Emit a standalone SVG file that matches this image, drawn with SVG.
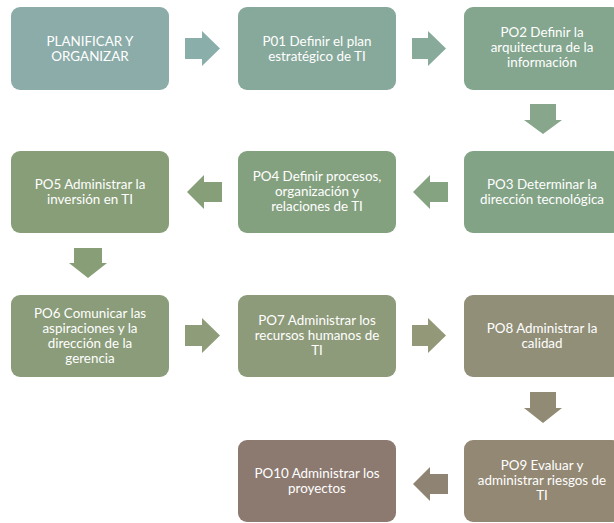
<svg xmlns="http://www.w3.org/2000/svg" width="614" height="523" viewBox="0 0 614 523">
<style>
  .box { stroke: none; }
  .t { font-family: Lato, "Open Sans", "Liberation Sans", sans-serif; font-size: 13.4px; fill: #ffffff; text-anchor: middle; }
</style>
<rect width="614" height="523" fill="#ffffff"/>
<g id="connectors">
  <path id="a1" d="M185,38 H202 V31 L220,48.5 L202,66 V59 H185 Z" fill="#8AAFAA"/>
  <path id="a2" d="M412,38 H428 V31 L446,48.5 L428,66 V59 H412 Z" fill="#88AA9B"/>
  <path id="a3" d="M530,104 H556 V120 H562 L543,134 L524,120 H530 Z" fill="#87A68C"/>
  <path id="a4" d="M448,182 H430 V175 L413,192 L430,209 V202 H448 Z" fill="#85A380"/>
  <path id="a5" d="M222,182 H204 V175 L187,192 L204,209 V202 H222 Z" fill="#879F79"/>
  <path id="a6" d="M74,248 H102 V263 H107 L88,278 L69,263 H74 Z" fill="#889E77"/>
  <path id="a7" d="M185,325 H202 V318 L220,335.5 L202,353 V346 H185 Z" fill="#8E9C79"/>
  <path id="a8" d="M412,325 H428 V318 L446,335.5 L428,353 V346 H412 Z" fill="#929878"/>
  <path id="a9" d="M530,392 H556 V408 H562 L543,423 L524,408 H530 Z" fill="#918B75"/>
  <path id="a10" d="M448,474 H430 V467 L413,484 L430,501 V494 H448 Z" fill="#8F8373"/>
</g>
<g id="n0">
  <rect class="box" x="11" y="7" width="158" height="83" rx="9" fill="#8BACA9"/>
  <text class="t" x="90" y="45.5">PLANIFICAR Y</text>
  <text class="t" x="90" y="60.5">ORGANIZAR</text>
</g>
<g id="n1">
  <rect class="box" x="238" y="7" width="158" height="83" rx="9" fill="#87A99B"/>
  <text class="t" x="317" y="45.5">P01 Definir el plan</text>
  <text class="t" x="317" y="60.5">estratégico de TI</text>
</g>
<g id="n2">
  <rect class="box" x="464" y="7" width="157" height="83" rx="9" fill="#84A68E"/>
  <text class="t" x="542" y="37">PO2 Definir la</text>
  <text class="t" x="542" y="52">arquitectura de la</text>
  <text class="t" x="542" y="67">información</text>
</g>
<g id="n3">
  <rect class="box" x="464" y="151" width="157" height="82" rx="9" fill="#83A386"/>
  <text class="t" x="542" y="189">PO3 Determinar la</text>
  <text class="t" x="542" y="204">dirección tecnológica</text>
</g>
<g id="n4">
  <rect class="box" x="238" y="151" width="158" height="82" rx="9" fill="#84A17F"/>
  <text class="t" x="317" y="181">PO4 Definir procesos,</text>
  <text class="t" x="317" y="196">organización y</text>
  <text class="t" x="317" y="211">relaciones de TI</text>
</g>
<g id="n5">
  <rect class="box" x="11" y="151" width="158" height="82" rx="9" fill="#879E79"/>
  <text class="t" x="90" y="189">PO5 Administrar la</text>
  <text class="t" x="90" y="204">inversión en TI</text>
</g>
<g id="n6">
  <rect class="box" x="11" y="295" width="158" height="82" rx="9" fill="#8A9C79"/>
  <text class="t" x="90" y="317.5">PO6 Comunicar las</text>
  <text class="t" x="90" y="332.5">aspiraciones y la</text>
  <text class="t" x="90" y="347.5">dirección de la</text>
  <text class="t" x="90" y="362.5">gerencia</text>
</g>
<g id="n7">
  <rect class="box" x="238" y="295" width="158" height="82" rx="9" fill="#8E9B7A"/>
  <text class="t" x="317" y="325">PO7 Administrar los</text>
  <text class="t" x="317" y="340">recursos humanos de</text>
  <text class="t" x="317" y="355">TI</text>
</g>
<g id="n8">
  <rect class="box" x="464" y="295" width="157" height="82" rx="9" fill="#928F78"/>
  <text class="t" x="542" y="333">PO8 Administrar la</text>
  <text class="t" x="542" y="348">calidad</text>
</g>
<g id="n9">
  <rect class="box" x="464" y="440" width="157" height="82" rx="9" fill="#938873"/>
  <text class="t" x="542" y="470">PO9 Evaluar y</text>
  <text class="t" x="542" y="485">administrar riesgos de</text>
  <text class="t" x="542" y="500">TI</text>
</g>
<g id="n10">
  <rect class="box" x="238" y="440" width="158" height="82" rx="9" fill="#8C7A70"/>
  <text class="t" x="317" y="477.5">PO10 Administrar los</text>
  <text class="t" x="317" y="492.5">proyectos</text>
</g>
</svg>
